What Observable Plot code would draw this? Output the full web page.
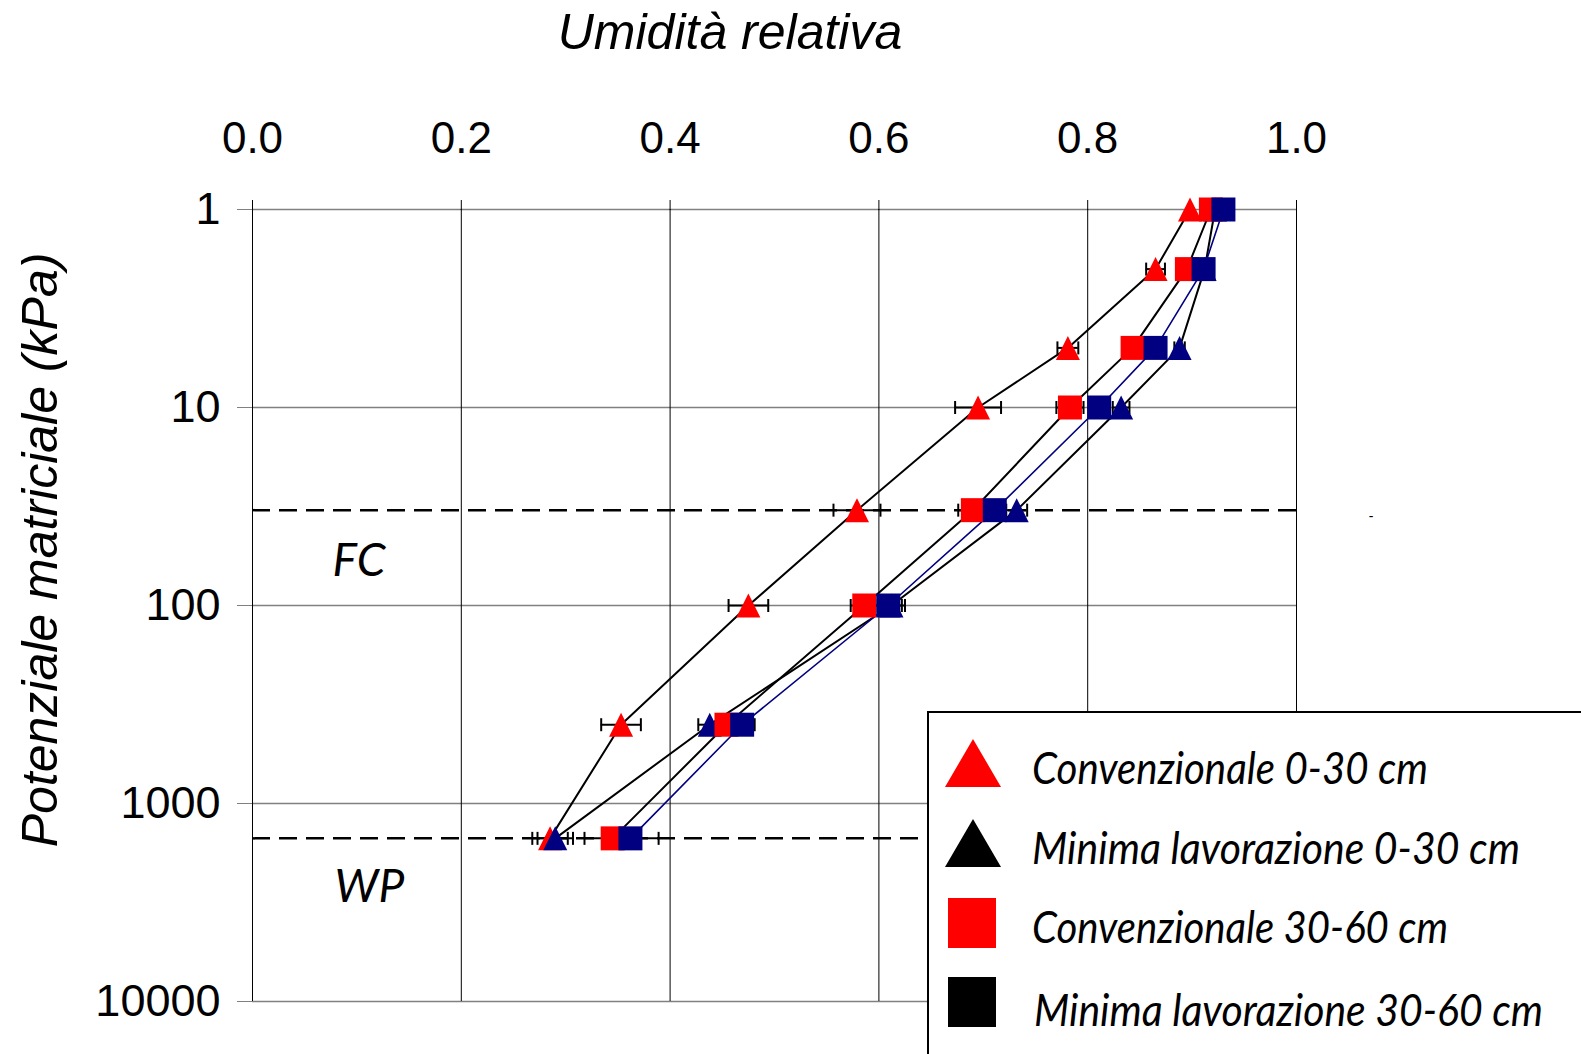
<!DOCTYPE html>
<html><head><meta charset="utf-8">
<script src="https://cdn.jsdelivr.net/npm/d3@7"></script>
<script src="https://cdn.jsdelivr.net/npm/@observablehq/plot@0.6"></script>
<style>
html,body{margin:0;padding:0;background:#fff;overflow:hidden}
svg{display:block}
</style>
</head><body><div id="chart"></div>
<script>
// ---- data ----
const potentials = [1, 2, 5, 10, 33, 100, 400, 1500];           // kPa
const convTop    = [0.898, 0.865, 0.781, 0.695, 0.579, 0.475, 0.353, 0.285];
const convTopErr = [0, 0.009, 0.010, 0.022, 0.0225, 0.019, 0.019, 0.017];
const minTop     = [0.922, 0.912, 0.888, 0.832, 0.732, 0.612, 0.438, 0.290];
const minTopErr  = [0, 0, 0.005, 0.008, 0.010, 0.013, 0.011, 0.017];
const convSub    = [0.918, 0.895, 0.843, 0.783, 0.690, 0.586, 0.454, 0.345];
const convSubErr = [0, 0, 0, 0.013, 0.014, 0.013, 0, 0.027];
const minSub     = [0.930, 0.911, 0.865, 0.811, 0.711, 0.609, 0.469, 0.362];
const minSubErr  = [0, 0, 0, 0, 0, 0.013, 0.012, 0.027];
const seriesNames = ["Convenzionale 0-30 cm", "Minima lavorazione 0-30 cm", "Convenzionale 30-60 cm", "Minima lavorazione 30-60 cm"];
const xTicks = [0, 0.2, 0.4, 0.6, 0.8, 1.0];
const yTicks = [1, 10, 100, 1000, 10000];
const thresholds = [33, 1500];
const thresholdLabels = ["FC", "WP"];
const thresholdLabelX = [0.102, 0.112];
const thresholdLabelY = [60, 2650];
const titleText = "Umidità relativa";
const yTitleText = "Potenziale matriciale (kPa)";

// ---- build table ----
const seriesDefs = [
  {vals: convTop, err: convTopErr, color: "#ff0000", shape: "tri"},
  {vals: minTop,  err: minTopErr,  color: "#000080", shape: "tri"},
  {vals: convSub, err: convSubErr, color: "#ff0000", shape: "sq"},
  {vals: minSub,  err: minSubErr,  color: "#000080", shape: "sq"}
];
const rows = [];
seriesDefs.forEach((s, si) => potentials.forEach((p, i) =>
  rows.push({series: seriesNames[si], si, y: p, x: s.vals[i], e: s.err[i]})));
const errRows = rows.filter(d => d.e > 0);

const triSym = {draw(ctx, size) { const s = Math.sqrt(size / Math.PI); ctx.moveTo(0, -s); ctx.lineTo(s, s); ctx.lineTo(-s, s); ctx.closePath(); }};
const sqSym  = {draw(ctx, size) { const s = Math.sqrt(size / Math.PI); ctx.rect(-s, -s, 2 * s, 2 * s); }};
const capSym = {draw(ctx, size) { const s = Math.sqrt(size / Math.PI); ctx.moveTo(0, -s); ctx.lineTo(0, s); }};

const dotMarks = seriesDefs.map((s, si) =>
  Plot.dot(rows.filter(d => d.si === si), {x: "x", y: "y", symbol: s.shape === "tri" ? triSym : sqSym,
    r: 12, fill: s.color, stroke: "none"}));

const chart = Plot.plot({
  width: 1581, height: 1054,
  marginTop: 209, marginLeft: 252, marginRight: 285, marginBottom: 53,
  style: {fontFamily: "'Liberation Sans', Arial, sans-serif", background: "#fff"},
  x: {domain: [0, 1]},
  y: {type: "log", domain: [1, 10000], reverse: true},
  marks: [
    Plot.gridY(yTicks, {stroke: "#808080", strokeOpacity: 1, strokeWidth: 1.5}),
    Plot.gridX(xTicks, {stroke: "#000", strokeOpacity: 1, strokeWidth: 1}),
    Plot.axisX(xTicks, {anchor: "top", tickSize: 10, tickPadding: 47, tickFormat: d3.format(".1f"),
      fontSize: 44, label: null, stroke: "#000", fill: "#000"}),
    Plot.axisY(yTicks, {anchor: "left", tickSize: 15, tickPadding: 17, tickFormat: d => String(d),
      fontSize: 45, label: null, stroke: "#808080", fill: "#000"}),
    Plot.ruleY(thresholds, {x1: 0, x2: 1, stroke: "#000", strokeWidth: 2.5, strokeDasharray: "18,9"}),
    Plot.text(thresholdLabels, {x: (d, i) => thresholdLabelX[i], y: (d, i) => thresholdLabelY[i], text: d => d,
      fontSize: 46, fontStyle: "italic", fontFamily: "Lato, 'Open Sans', sans-serif", fill: "#000"}),
    Plot.line(rows.filter(d => d.si !== 3), {x: "x", y: "y", z: "series", stroke: "#000", strokeWidth: 2}),
    Plot.line(rows.filter(d => d.si === 3), {x: "x", y: "y", stroke: "#000080", strokeWidth: 1.6}),
    Plot.ruleY(errRows, {y: "y", x1: d => d.x - d.e, x2: d => d.x + d.e, stroke: "#000", strokeWidth: 2}),
    Plot.dot(errRows, {x: d => d.x - d.e, y: "y", symbol: capSym, r: 6.5, stroke: "#000", strokeWidth: 2, fill: "none"}),
    Plot.dot(errRows, {x: d => d.x + d.e, y: "y", symbol: capSym, r: 6.5, stroke: "#000", strokeWidth: 2, fill: "none"}),
    ...dotMarks
  ]
});
document.getElementById("chart").appendChild(chart);

// ---- titles and legend ----
const svg = d3.select(chart);
svg.append("text").attr("x", 730).attr("y", 49).attr("text-anchor", "middle")
  .attr("font-size", 50).attr("font-style", "italic").attr("fill", "#000").text(titleText);
svg.append("text").attr("transform", "translate(57,550) rotate(-90)").attr("text-anchor", "middle")
  .attr("font-size", 50).attr("font-style", "italic").attr("fill", "#000").text(yTitleText);
svg.append("text").attr("x", 1371).attr("y", 521).attr("text-anchor", "middle").attr("font-size", 14).attr("fill", "#000").text("-");

const lg = svg.append("g");
lg.append("rect").attr("x", 928).attr("y", 712).attr("width", 700).attr("height", 400)
  .attr("fill", "#fff").attr("stroke", "#000").attr("stroke-width", 2);
const legendRows = [
  {shape: "tri", color: "#ff0000", cy: 763, base: 784, w: 396, tx: 1032},
  {shape: "tri", color: "#000000", cy: 843, base: 864, w: 488, tx: 1032},
  {shape: "sq",  color: "#ff0000", cy: 923, base: 943, w: 416, tx: 1032},
  {shape: "sq",  color: "#000000", cy: 1002, base: 1026, w: 509, tx: 1034}
];
legendRows.forEach((r, i) => {
  if (r.shape === "tri") {
    lg.append("path").attr("d", `M973,${r.cy - 24}L1001,${r.cy + 24}L945,${r.cy + 24}Z`).attr("fill", r.color);
  } else {
    lg.append("rect").attr("x", 948).attr("y", r.cy - 25).attr("width", 48).attr("height", 50).attr("fill", r.color);
  }
  lg.append("text").attr("x", r.tx).attr("y", r.base).attr("text-anchor", "start")
    .attr("font-family", "Lato, 'Open Sans', sans-serif")
    .attr("font-size", 45).attr("font-style", "italic").attr("fill", "#000")
    .attr("textLength", r.w).attr("lengthAdjust", "spacingAndGlyphs").text(seriesNames[i]);
});
</script>
</body></html>
